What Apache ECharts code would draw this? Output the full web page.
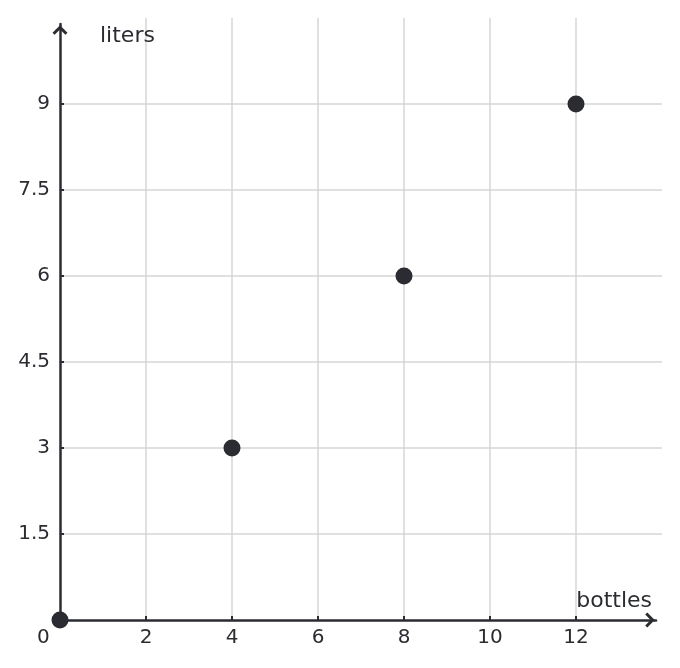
<!DOCTYPE html>
<html>
<head>
<meta charset="utf-8">
<script src="https://cdn.jsdelivr.net/npm/echarts@6/dist/echarts.min.js"></script>
<style>html,body{margin:0;padding:0;background:#fff}#c{width:680px;height:668px}</style>
</head>
<body>
<div id="c"></div>
<script>
const bottles = [0, 4, 8, 12];
const liters = [0, 3, 6, 9];
const xTicks = [2, 4, 6, 8, 10, 12];
const yTicks = [1.5, 3, 4.5, 6, 7.5, 9];
const xName = 'bottles';
const yName = 'liters';
const originLabel = '0';

const ink = '#2a2c31';
const font = 'DejaVu Sans';
const chevron = 'path://M0,0 L9,9 L6.5,11.5 L0,5 L-6.5,11.5 L-9,9 Z';
const gridColor = '#d6d6d6';

const chart = echarts.init(document.getElementById('c'), null, {renderer: 'canvas'});
chart.setOption({
  animation: false,
  backgroundColor: '#fff',
  grid: [
    {left: 60, right: 18, top: 18, bottom: 48, containLabel: false},
    {left: 60, right: 24, top: 24, bottom: 48, containLabel: false}
  ],
  xAxis: [{
    gridIndex: 0, type: 'value', min: 0, max: 14, interval: 2,
    name: xName, nameLocation: 'end', nameGap: -10,
    nameTextStyle: {fontFamily: font, fontSize: 22, color: ink, align: 'right', verticalAlign: 'bottom', padding: [0, 0, 8, 0]},
    axisLine: {show: false},
    axisTick: {show: true, inside: true, length: 4, customValues: xTicks, lineStyle: {color: ink, width: 2}},
    axisLabel: {fontFamily: font, fontSize: 20, color: ink, margin: 8, customValues: xTicks},
    splitLine: {show: true, showMinLine: true, showMaxLine: true, lineStyle: {color: gridColor, width: 1.5}}
  }, {
    gridIndex: 1, type: 'value', min: 0, max: 14,
    axisLine: {show: true, symbol: ['none', chevron], symbolSize: [15, 12], symbolOffset: [0, -6], lineStyle: {color: ink, width: 2.5}},
    axisTick: {show: false}, axisLabel: {show: false}, splitLine: {show: false}
  }],
  yAxis: [{
    gridIndex: 0, type: 'value', min: 0, max: 10.5, interval: 1.5,
    name: yName, nameLocation: 'end', nameGap: -18,
    nameTextStyle: {fontFamily: font, fontSize: 22, color: ink, align: 'left', verticalAlign: 'middle', padding: [0, 0, 0, 40]},
    axisLine: {show: false},
    axisTick: {show: true, inside: true, length: 4, customValues: yTicks, lineStyle: {color: ink, width: 2}},
    axisLabel: {fontFamily: font, fontSize: 20, color: ink, margin: 10, customValues: yTicks},
    splitLine: {show: true, showMinLine: true, showMaxLine: true, lineStyle: {color: gridColor, width: 1.5}}
  }, {
    gridIndex: 1, type: 'value', min: 0, max: 10.5,
    axisLine: {show: true, symbol: ['none', chevron], symbolSize: [15, 12], symbolOffset: [0, -6], lineStyle: {color: ink, width: 2.5}},
    axisTick: {show: false}, axisLabel: {show: false}, splitLine: {show: false}
  }],
  graphic: [{
    type: 'text', left: 37, top: 628,
    style: {text: originLabel, font: '20px "DejaVu Sans"', fill: ink}
  }],
  series: [{
    type: 'scatter', xAxisIndex: 0, yAxisIndex: 0,
    data: bottles.map((b, i) => [b, liters[i]]),
    symbol: 'circle', symbolSize: 17,
    itemStyle: {color: ink, opacity: 1},
    clip: false, z: 5
  }]
});
</script>
</body>
</html>
